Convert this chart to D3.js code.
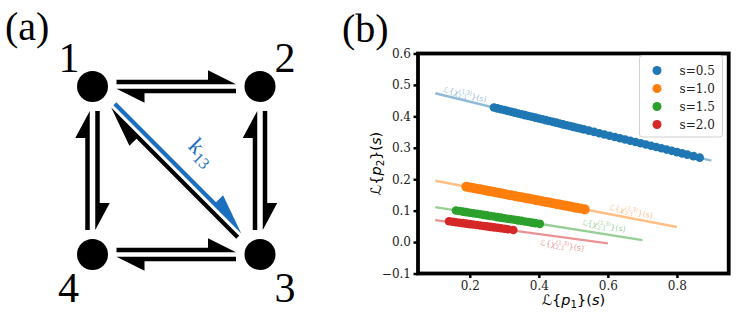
<!DOCTYPE html>
<html>
<head>
<meta charset="utf-8">
<script src="https://cdn.jsdelivr.net/npm/d3@7"></script>
<style>
  body { margin: 0; background: #fff; }
</style>
</head>
<body>
<div id="viz"></div>
<script>
// ---- data ----
const seriesNames = ["s=0.5", "s=1.0", "s=1.5", "s=2.0"]
const seriesColors = ["#1f77b4", "#ff7f0e", "#2ca02c", "#d62728"]

// scatter: L{p1}(s) vs L{p2}(s)
const p1_s05 = [0.27, 0.28, 0.29, 0.30, 0.31, 0.32, 0.33, 0.34, 0.35, 0.36, 0.37, 0.38, 0.39, 0.40, 0.41, 0.42, 0.43, 0.44, 0.45, 0.46, 0.47, 0.48, 0.49, 0.50, 0.51, 0.52, 0.53, 0.545, 0.56, 0.575, 0.59, 0.605, 0.62, 0.635, 0.65, 0.665, 0.68, 0.695, 0.71, 0.725, 0.74, 0.755, 0.77, 0.785, 0.80, 0.815, 0.83, 0.848, 0.866]
const p2_s05 = [0.428, 0.4254, 0.4227, 0.4200, 0.4173, 0.4147, 0.4120, 0.4093, 0.4066, 0.4040, 0.4013, 0.3986, 0.3959, 0.3933, 0.3906, 0.3879, 0.3852, 0.3826, 0.3799, 0.3772, 0.3745, 0.3719, 0.3692, 0.3665, 0.3638, 0.3612, 0.3585, 0.3545, 0.3505, 0.3464, 0.3424, 0.3384, 0.3344, 0.3304, 0.3264, 0.3224, 0.3184, 0.3143, 0.3103, 0.3063, 0.3023, 0.2983, 0.2943, 0.2903, 0.2863, 0.2822, 0.2782, 0.2734, 0.2686]
const p1_s10 = [0.19, 0.20, 0.21, 0.22, 0.23, 0.24, 0.25, 0.26, 0.27, 0.28, 0.29, 0.30, 0.31, 0.32, 0.33, 0.34, 0.35, 0.36, 0.37, 0.38, 0.39, 0.40, 0.41, 0.42, 0.43, 0.44, 0.45, 0.46, 0.47, 0.48, 0.49, 0.50, 0.51, 0.52, 0.533]
const p2_s10 = [0.1761, 0.1740, 0.1719, 0.1698, 0.1677, 0.1656, 0.1635, 0.1614, 0.1593, 0.1572, 0.1551, 0.1530, 0.1509, 0.1488, 0.1467, 0.1446, 0.1425, 0.1404, 0.1383, 0.1362, 0.1341, 0.1320, 0.1299, 0.1278, 0.1257, 0.1236, 0.1215, 0.1194, 0.1173, 0.1152, 0.1131, 0.1110, 0.1089, 0.1068, 0.1041]
const p1_s15 = [0.16, 0.17, 0.18, 0.19, 0.20, 0.21, 0.22, 0.23, 0.24, 0.25, 0.26, 0.27, 0.28, 0.29, 0.30, 0.31, 0.32, 0.33, 0.34, 0.35, 0.36, 0.37, 0.38, 0.39, 0.403]
const p2_s15 = [0.1005, 0.0988, 0.0970, 0.0953, 0.0935, 0.0918, 0.0900, 0.0883, 0.0865, 0.0848, 0.0830, 0.0813, 0.0795, 0.0778, 0.0760, 0.0743, 0.0725, 0.0708, 0.0690, 0.0673, 0.0655, 0.0638, 0.0620, 0.0603, 0.0580]
const p1_s20 = [0.14, 0.15, 0.16, 0.17, 0.18, 0.19, 0.20, 0.21, 0.22, 0.23, 0.24, 0.25, 0.26, 0.27, 0.28, 0.29, 0.30, 0.31, 0.326]
const p2_s20 = [0.0661, 0.0646, 0.0631, 0.0616, 0.0602, 0.0587, 0.0572, 0.0557, 0.0543, 0.0528, 0.0513, 0.0498, 0.0483, 0.0468, 0.0454, 0.0439, 0.0424, 0.0409, 0.0386]

// theory lines L{chi_{2,1}^{(1,3)}}(s), end points
const lineX = [[0.1, 0.9], [0.1, 0.8], [0.1, 0.7], [0.1, 0.6]]
const lineY = [[0.4735, 0.259], [0.195, 0.048], [0.111, 0.006], [0.070, -0.004]]

const xTicks = [0.2, 0.4, 0.6, 0.8]
const yTicks = [-0.1, 0.0, 0.1, 0.2, 0.3, 0.4, 0.5, 0.6]

// network of panel (a)
const nodeIds = ["1", "2", "3", "4"]
const nodeCol = [0, 1, 1, 0]
const nodeRow = [0, 0, 1, 1]
const edges = [["1","2"],["2","1"],["4","3"],["3","4"],["4","1"],["1","4"],["3","2"],["2","3"],["3","1"],["1","3"]]

const width = 737
const height = 316

const svg = d3.select("#viz").append("svg")
    .attr("width", width)
    .attr("height", height)

// ================= panel (a) =================
const serif = "Liberation Serif, Times New Roman, serif"
const kBlue = "#1c6fbf"

svg.append("text").attr("x", 5).attr("y", 40)
    .attr("font-family", serif).attr("font-size", 40).text("(a)")

const gx = d3.scaleLinear().domain([0, 1]).range([92.5, 260])
const gy = d3.scaleLinear().domain([0, 1]).range([86.5, 254.5])
const nodePos = {}
nodeIds.forEach((id, i) => nodePos[id] = [gx(nodeCol[i]), gy(nodeRow[i])])

// half-headed arrow (harpoon) drawn in its own lane
function harpoon (a, b, o) {
    const dx = b[0] - a[0], dy = b[1] - a[1]
    const len = Math.hypot(dx, dy)
    const u = [dx / len, dy / len]
    const m = [u[1], -u[0]]           // lane side = head side
    const A = [a[0] + u[0]*o.shrink + m[0]*o.off, a[1] + u[1]*o.shrink + m[1]*o.off]
    const B = [b[0] - u[0]*o.shrink + m[0]*o.off, b[1] - u[1]*o.shrink + m[1]*o.off]
    const t = o.t / 2
    const P = (q, s) => [q[0] + m[0]*s, q[1] + m[1]*s]
    const back = [B[0] - u[0]*o.L, B[1] - u[1]*o.L]
    return [P(A, -t), P(B, -t), P(back, t + o.W), P(back, t), P(A, t)]
}

const gA = svg.append("g")
edges.forEach(([f, to]) => {
    const diag = (f === "1" && to === "3") || (f === "3" && to === "1")
    const vert = nodePos[f][0] === nodePos[to][0]
    const o = diag ? {shrink: 28, off: 3.6, t: 4.2, L: 40, W: 10}
              : vert ? {shrink: 24.5, off: 5, t: 4.5, L: 27, W: 10}
              : {shrink: 24, off: 4.5, t: 4.5, L: 28, W: 9.5}
    gA.append("polygon")
        .attr("points", harpoon(nodePos[f], nodePos[to], o).map(p => p.join(",")).join(" "))
        .attr("fill", f === "1" && to === "3" ? kBlue : "black")
})

gA.selectAll("circle").data(nodeIds).join("circle")
    .attr("cx", d => nodePos[d][0])
    .attr("cy", d => nodePos[d][1])
    .attr("r", 15.5)
    .attr("fill", "black")

const nodeLabelOff = {"1": [-23.5, -14.5], "2": [25, -14.5], "3": [25, 47.5], "4": [-24, 47.5]}
gA.selectAll("text.node").data(nodeIds).join("text")
    .attr("class", "node")
    .attr("x", d => nodePos[d][0] + nodeLabelOff[d][0])
    .attr("y", d => nodePos[d][1] + nodeLabelOff[d][1])
    .attr("text-anchor", "middle")
    .attr("font-family", serif).attr("font-size", 42)
    .text(d => d)

// k13 label along the diagonal
const kx = 197, ky = 157
const kLab = gA.append("text")
    .attr("transform", `translate(${kx},${ky}) rotate(45)`)
    .attr("text-anchor", "middle")
    .attr("font-family", serif).attr("font-size", 23)
    .attr("fill", kBlue)
kLab.append("tspan").text("k")
kLab.append("tspan").text("13").attr("font-size", 16).attr("dy", 5)

// ================= panel (b) =================
svg.append("text").attr("x", 342).attr("y", 42)
    .attr("font-family", serif).attr("font-size", 40).text("(b)")

const xScale = d3.scaleLinear().domain([0.05, 0.95]).range([418, 728.7])
const yScale = d3.scaleLinear().domain([-0.1, 0.6]).range([273.5, 53.5])

const tickFont = "DejaVu Serif, serif"
const mathFont = "DejaVu Sans, sans-serif"

// math-like text with sub/superscripts
function mathText (sel, parts, size) {
    let cur = 0
    parts.forEach(p => {
        const kind = p[1] || "n"
        let shift = 0
        if (kind === "sub") shift = 0.22 * size
        if (kind === "sup") shift = -0.42 * size
        const ts = sel.append("tspan").text(p[0]).attr("dy", shift - cur)
        if (p[2]) ts.attr("dx", p[2])
        cur = shift
        if (kind === "sub" || kind === "sup") ts.attr("font-size", size * 0.7)
        if (kind === "i") ts.attr("font-style", "italic")
    })
}

// theory lines
const gLines = svg.append("g")
lineX.forEach((xs, i) => {
    gLines.append("line")
        .attr("x1", xScale(xs[0])).attr("y1", yScale(lineY[i][0]))
        .attr("x2", xScale(xs[1])).attr("y2", yScale(lineY[i][1]))
        .attr("stroke", seriesColors[i])
        .attr("stroke-opacity", 0.5)
        .attr("stroke-width", 2.4)
})

// line annotations (data-coordinate anchors)
const labelAnchor = [[0.122, 0.4775], [0.603, 0.102], [0.524, 0.0545], [0.403, -0.010]]
labelAnchor.forEach((a, i) => {
    const ang = Math.atan2(yScale(lineY[i][1]) - yScale(lineY[i][0]),
                           xScale(lineX[i][1]) - xScale(lineX[i][0])) * 180 / Math.PI
    const t = gLines.append("text")
        .attr("transform", `translate(${xScale(a[0])},${yScale(a[1])}) rotate(${ang})`)
        .attr("font-family", mathFont).attr("font-size", 8)
        .attr("fill", seriesColors[i]).attr("fill-opacity", 0.5)
    mathText(t, [["ℒ{"], ["χ", "i"], ["(1,3)", "sup"], ["2,1", "sub", -13], ["}(s)", "n", 4]], 8)
})

// scatter points
const scatterX = [p1_s05, p1_s10, p1_s15, p1_s20]
const scatterY = [p2_s05, p2_s10, p2_s15, p2_s20]
const gPts = svg.append("g")
scatterX.forEach((xs, i) => {
    gPts.append("g").selectAll("circle")
        .data(xs.map((v, j) => [v, scatterY[i][j]]))
        .join("circle")
        .attr("cx", d => xScale(d[0]))
        .attr("cy", d => yScale(d[1]))
        .attr("r", i === 1 ? 5 : 4.3)
        .attr("fill", seriesColors[i])
})

// axes
const yAxis = d3.axisLeft(yScale).tickValues(yTicks).tickFormat(d3.format(".1f"))
    .tickSize(4.5).tickPadding(2.5)
const xAxis = d3.axisBottom(xScale).tickValues(xTicks).tickFormat(d3.format(".1f"))
    .tickSize(4.5).tickPadding(3.5)

const gy1 = svg.append("g").attr("transform", "translate(418,0)").call(yAxis)
const gx1 = svg.append("g").attr("transform", "translate(0,273.5)").call(xAxis)
;[gx1, gy1].forEach(g => {
    g.select(".domain").remove()
    g.selectAll(".tick line").attr("stroke", "black").attr("stroke-width", 2.5)
    g.selectAll(".tick text").attr("font-family", tickFont).attr("font-size", 12).attr("fill", "#222")
})

// frame
svg.append("rect")
    .attr("x", 418).attr("y", 53.5)
    .attr("width", 728.7 - 418).attr("height", 273.5 - 53.5)
    .attr("fill", "none").attr("stroke", "black").attr("stroke-width", 3.8)

// axis labels
const xl = svg.append("text").attr("x", 573.4).attr("y", 305)
    .attr("text-anchor", "middle").attr("font-family", mathFont).attr("font-size", 14.5)
mathText(xl, [["ℒ{"], ["p", "i"], ["1", "sub"], ["}("], ["s", "i"], [")"]], 14.5)

const yl = svg.append("text").attr("transform", "translate(381,163.5) rotate(-90)")
    .attr("text-anchor", "middle").attr("font-family", mathFont).attr("font-size", 14.5)
mathText(yl, [["ℒ{"], ["p", "i"], ["2", "sub"], ["}("], ["s", "i"], [")"]], 14.5)

// legend
const lg = svg.append("g").attr("transform", "translate(639.5,55.5)")
lg.append("rect").attr("width", 83).attr("height", 81.5).attr("rx", 3)
    .attr("fill", "white").attr("fill-opacity", 0.8)
    .attr("stroke", "#d0d0d0").attr("stroke-width", 1)
const rowY = d3.scaleLinear().domain([0, 3]).range([15, 69])
seriesNames.forEach((name, i) => {
    lg.append("circle").attr("cx", 17.5).attr("cy", rowY(i)).attr("r", 4.5).attr("fill", seriesColors[i])
    lg.append("text").attr("x", 40).attr("y", rowY(i) + 4.5)
        .attr("font-family", tickFont).attr("font-size", 12).attr("fill", "#222")
        .text(name)
})
</script>
</body>
</html>
